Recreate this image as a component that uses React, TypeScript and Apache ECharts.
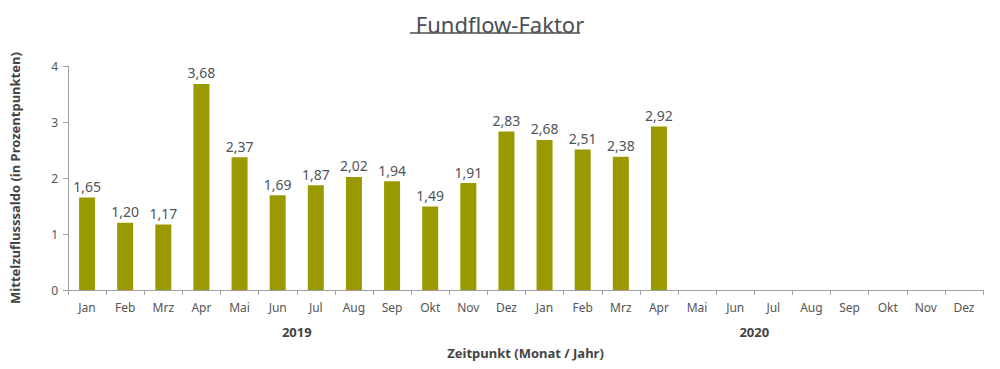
import React, { useEffect, useRef } from "react";
import * as echarts from "echarts";

const months = ["Jan","Feb","Mrz","Apr","Mai","Jun","Jul","Aug","Sep","Okt","Nov","Dez","Jan","Feb","Mrz","Apr","Mai","Jun","Jul","Aug","Sep","Okt","Nov","Dez"];
const years = ["2019", "2020"];
const values: (number | null)[] = [1.65,1.20,1.17,3.68,2.37,1.69,1.87,2.02,1.94,1.49,1.91,2.83,2.68,2.51,2.38,2.92,null,null,null,null,null,null,null,null];
const yTicks = { min: 0, max: 4, interval: 1 };

const FONT = "'Noto Sans', 'Open Sans', sans-serif";

export default function App() {
  const ref = useRef<HTMLDivElement>(null);
  useEffect(() => {
    if (!ref.current) return;
    const chart = echarts.init(ref.current, null, { renderer: "svg" });
    chart.setOption({
      animation: false,
      textStyle: { fontFamily: FONT },
      title: {
        text: "Fundflow-Faktor",
        left: "center",
        top: 8,
        textStyle: { fontFamily: FONT, fontSize: 22, fontWeight: "normal", color: "#4a4f55" },
      },
      graphic: [
        { type: "line", shape: { x1: 410, y1: 33, x2: 580, y2: 33 }, style: { stroke: "#4a4f55", lineWidth: 1.5 } },
      ],
      grid: { left: 65, right: 17, top: 66, bottom: 79 },
      xAxis: [
        {
          type: "category",
          data: months,
          position: "bottom",
          axisLine: { lineStyle: { color: "#a0a0a0", width: 1 } },
          axisTick: { show: true, length: 5, lineStyle: { color: "#a0a0a0" } },
          axisLabel: { color: "#555", fontSize: 12, margin: 11, interval: 0, fontFamily: FONT },
        },
        {
          type: "category",
          data: years,
          position: "bottom",
          offset: 27,
          axisLine: { show: false },
          axisTick: { show: false },
          axisLabel: { color: "#444", fontSize: 13, fontWeight: "bold", margin: 8, fontFamily: FONT },
          name: "Zeitpunkt (Monat / Jahr)",
          nameLocation: "middle",
          nameGap: 29,
          nameTextStyle: { color: "#444", fontSize: 13, fontWeight: "bold", fontFamily: FONT },
        },
      ],
      yAxis: {
        type: "value",
        min: yTicks.min,
        max: yTicks.max,
        interval: yTicks.interval,
        name: "Mittelzuflusssaldo (in Prozentpunkten)",
        nameLocation: "middle",
        nameGap: 47,
        nameTextStyle: { color: "#444", fontSize: 13, fontWeight: "bold", fontFamily: FONT },
        axisLine: { show: true, lineStyle: { color: "#a0a0a0", width: 1 } },
        axisTick: { show: true, length: 5, lineStyle: { color: "#a0a0a0" } },
        axisLabel: { color: "#555", fontSize: 12, margin: 10, fontFamily: FONT },
        splitLine: { show: false },
      },
      series: [
        {
          type: "bar",
          xAxisIndex: 0,
          data: values,
          barWidth: "42%",
          itemStyle: { color: "#9a9a00" },
          label: {
            show: true,
            position: "top",
            distance: 4,
            color: "#4f5458",
            fontSize: 14,
            fontFamily: FONT,
            formatter: (p: any) => (p.value == null ? "" : Number(p.value).toFixed(2).replace(".", ",")),
          },
        },
      ],
    });
    return () => chart.dispose();
  }, []);
  return <div ref={ref} style={{ width: 1000, height: 369, position: "absolute", left: 0, top: 0 }} />;
}
